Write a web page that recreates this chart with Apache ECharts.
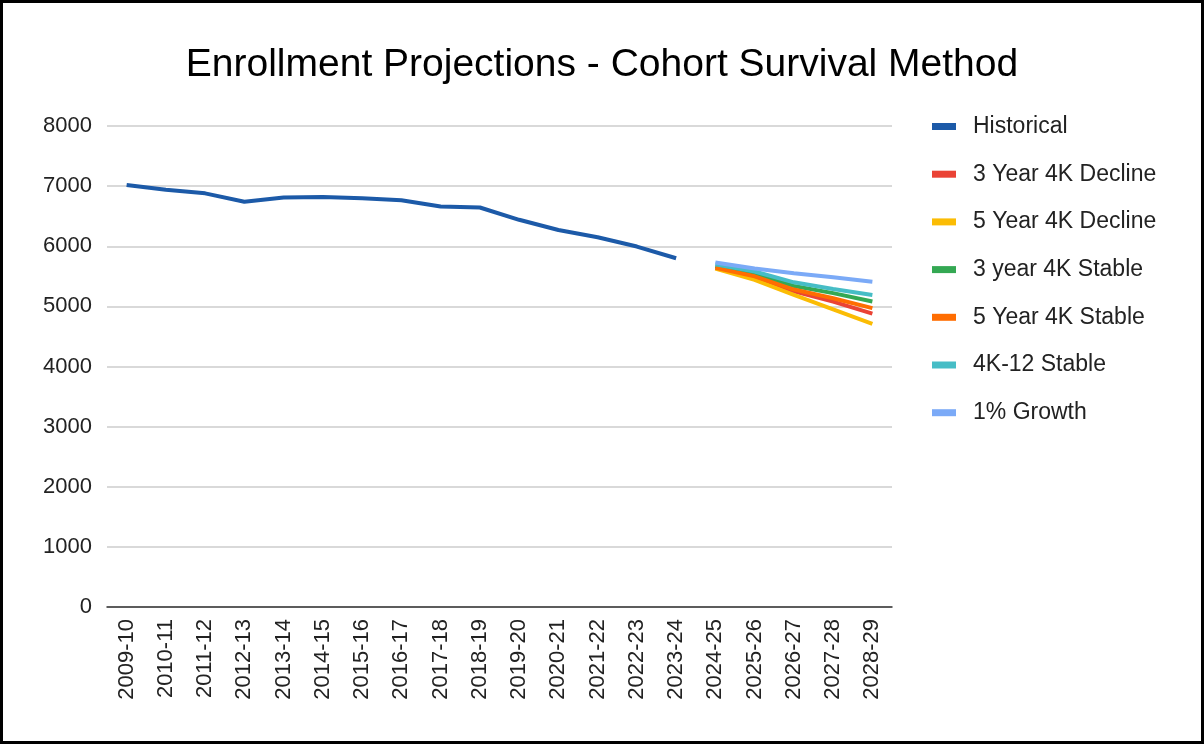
<!DOCTYPE html>
<html>
<head>
<meta charset="utf-8">
<script src="https://cdn.jsdelivr.net/npm/echarts@6/dist/echarts.min.js"></script>
<style>
  html, body { margin: 0; padding: 0; background: #fff; }
  #chart { width: 1204px; height: 744px; }
</style>
</head>
<body>
<div id="chart"></div>
<script>
  // school years on the x axis
  var years = ['2009-10', '2010-11', '2011-12', '2012-13', '2013-14', '2014-15', '2015-16',
    '2016-17', '2017-18', '2018-19', '2019-20', '2020-21', '2021-22', '2022-23', '2023-24',
    '2024-25', '2025-26', '2026-27', '2027-28', '2028-29'];

  var historical = [7020, 6940, 6880, 6740, 6810, 6820, 6800, 6765, 6660, 6645, 6440, 6270, 6150, 5995, 5800];

  // projections 2024-25 .. 2028-29
  var decline3yr = [5640, 5490, 5250, 5080, 4880];
  var decline5yr = [5630, 5440, 5190, 4950, 4710];
  var stable3yr = [5665, 5530, 5340, 5220, 5080];
  var stable5yr = [5640, 5500, 5280, 5135, 4970];
  var stableK12 = [5700, 5580, 5400, 5290, 5190];
  var growth1pct = [5730, 5630, 5550, 5485, 5410];

  var yTicks = [0, 1000, 2000, 3000, 4000, 5000, 6000, 7000, 8000];

  var FONT = '"Liberation Sans", Arial, sans-serif';

  function pad(arr, before, total) {
    var out = [];
    for (var i = 0; i < before; i++) out.push(null);
    out = out.concat(arr);
    while (out.length < total) out.push(null);
    return out;
  }

  var n = years.length;
  var projStart = historical.length;

  function mkLine(name, color, data) {
    return {
      name: name,
      type: 'line',
      data: data,
      showSymbol: false,
      symbol: 'none',
      connectNulls: false,
      lineStyle: { width: 4, color: color },
      itemStyle: { color: color }
    };
  }

  var myChart = echarts.init(document.getElementById('chart'));
  myChart.setOption({
    animation: false,
    textStyle: { fontFamily: FONT },
    title: {
      text: 'Enrollment Projections - Cohort Survival Method',
      left: 'center',
      top: 41,
      textStyle: { fontSize: 39, fontWeight: 'normal', color: '#000', fontFamily: FONT }
    },
    legend: {
      orient: 'vertical',
      left: 927,
      top: 110,
      itemWidth: 24,
      itemHeight: 7,
      itemGap: 24.7,
      icon: 'rect',
      textStyle: { fontSize: 23, color: '#222', fontFamily: FONT, padding: [0, 0, 0, 12] },
      data: ['Historical', '3 Year 4K Decline', '5 Year 4K Decline', '3 year 4K Stable',
        '5 Year 4K Stable', '4K-12 Stable', '1% Growth']
    },
    grid: { left: 107, right: 312, top: 126, bottom: 137 },
    xAxis: {
      type: 'category',
      data: years,
      boundaryGap: true,
      axisLine: { lineStyle: { color: '#333', width: 1.5 } },
      axisTick: { show: false },
      axisLabel: { rotate: 90, fontSize: 22, color: '#222', margin: 12, interval: 0, fontFamily: FONT }
    },
    yAxis: {
      type: 'value',
      min: yTicks[0],
      max: yTicks[yTicks.length - 1],
      interval: 1000,
      axisLine: { show: false },
      axisTick: { show: false },
      axisLabel: {
        fontSize: 22, color: '#222', margin: 15, fontFamily: FONT,
        formatter: function (v) { return String(v); }
      },
      splitLine: { lineStyle: { color: '#cccccc', width: 1.5 } }
    },
    graphic: [{
      type: 'rect',
      shape: { x: 1.5, y: 1.5, width: 1201, height: 741 },
      style: { fill: 'none', stroke: '#000', lineWidth: 3 },
      silent: true
    }],
    series: [
      mkLine('Historical', '#1c5aa8', pad(historical, 0, n)),
      mkLine('3 Year 4K Decline', '#ea4335', pad(decline3yr, projStart, n)),
      mkLine('5 Year 4K Decline', '#fbbc04', pad(decline5yr, projStart, n)),
      mkLine('3 year 4K Stable', '#34a853', pad(stable3yr, projStart, n)),
      mkLine('5 Year 4K Stable', '#ff6d01', pad(stable5yr, projStart, n)),
      mkLine('4K-12 Stable', '#46bdc6', pad(stableK12, projStart, n)),
      mkLine('1% Growth', '#7baaf7', pad(growth1pct, projStart, n))
    ]
  });
</script>
</body>
</html>
